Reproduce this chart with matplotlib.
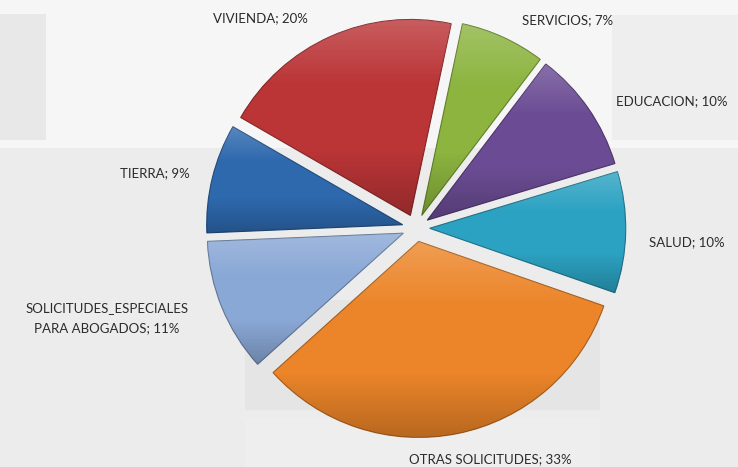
import matplotlib.pyplot as plt
import matplotlib.patches as mpatches
from matplotlib.colors import LinearSegmentedColormap, to_rgb
import numpy as np

# data (clockwise from the top)
categories = ["SERVICIOS", "EDUCACION", "SALUD", "OTRAS SOLICITUDES",
              "SOLICITUDES_ESPECIALES\nPARA ABOGADOS", "TIERRA", "VIVIENDA"]
percent = [7, 10, 10, 33, 11, 9, 20]

colors = ["#8cb43f", "#6b4c94", "#2ca2c2", "#ec8529", "#8aa8d6", "#2e69ae", "#bb3537"]

# label centres in pixel coords (x from left, y from top)
label_pos = [(568, 20), (672, 101), (687, 242), (490, 459),
             (107, 318), (155, 173), (260, 18)]

W, H = 738, 467
fig = plt.figure(figsize=(W / 100, H / 100), dpi=100)
fig.patch.set_facecolor("#ececec")
ax = fig.add_axes([0, 0, 1, 1])
ax.set_facecolor("#ececec")

# faded photo-like background panels
panels = [((0, 0, 738, 148), "#f6f6f6"), ((0, 14, 46, 140), "#e8e8e8"),
          ((612, 15, 738, 140), "#eeeeee"), ((245, 300, 600, 410), "#e5e5e5"),
          ((245, 418, 600, 467), "#eeeeee")]
for (x0, y0, x1, y1), c in panels:
    ax.add_patch(mpatches.Rectangle((x0, H - y1), x1 - x0, y1 - y0, color=c, lw=0, zorder=0))

cx, cy, r = 416, H - 228, 196
wedges, _ = ax.pie(percent, colors=colors, startangle=78, counterclock=False,
                   explode=[0.07 * r] * len(percent), center=(cx, cy), radius=r,
                   wedgeprops=dict(linewidth=0.8, zorder=2))

shade = LinearSegmentedColormap.from_list(
    "shade", [(0, 0, 0, 0.22), (0, 0, 0, 0.0), (1, 1, 1, 0.0), (1, 1, 1, 0.2)])
grad = np.linspace(0, 1, 256).reshape(-1, 1)
for w, c in zip(wedges, colors):
    w.set_edgecolor(tuple(v * 0.7 for v in to_rgb(c)))
    bb = w.get_path().get_extents()
    im = ax.imshow(grad, cmap=shade, extent=[bb.x0, bb.x1, bb.y0, bb.y1],
                   origin="lower", aspect="auto", zorder=3, interpolation="bilinear")
    im.set_clip_path(w)

for name, p, (lx, ly) in zip(categories, percent, label_pos):
    ax.text(lx, H - ly, f"{name}; {p}%", ha="center", va="center", linespacing=1.75,
            fontsize=9.5, family="Lato", color="#2b2b2b", zorder=5)

ax.set_xlim(0, W)
ax.set_ylim(0, H)
ax.set_aspect("auto")
ax.axis("off")
fig.savefig("out.png", dpi=100, facecolor=fig.get_facecolor())
